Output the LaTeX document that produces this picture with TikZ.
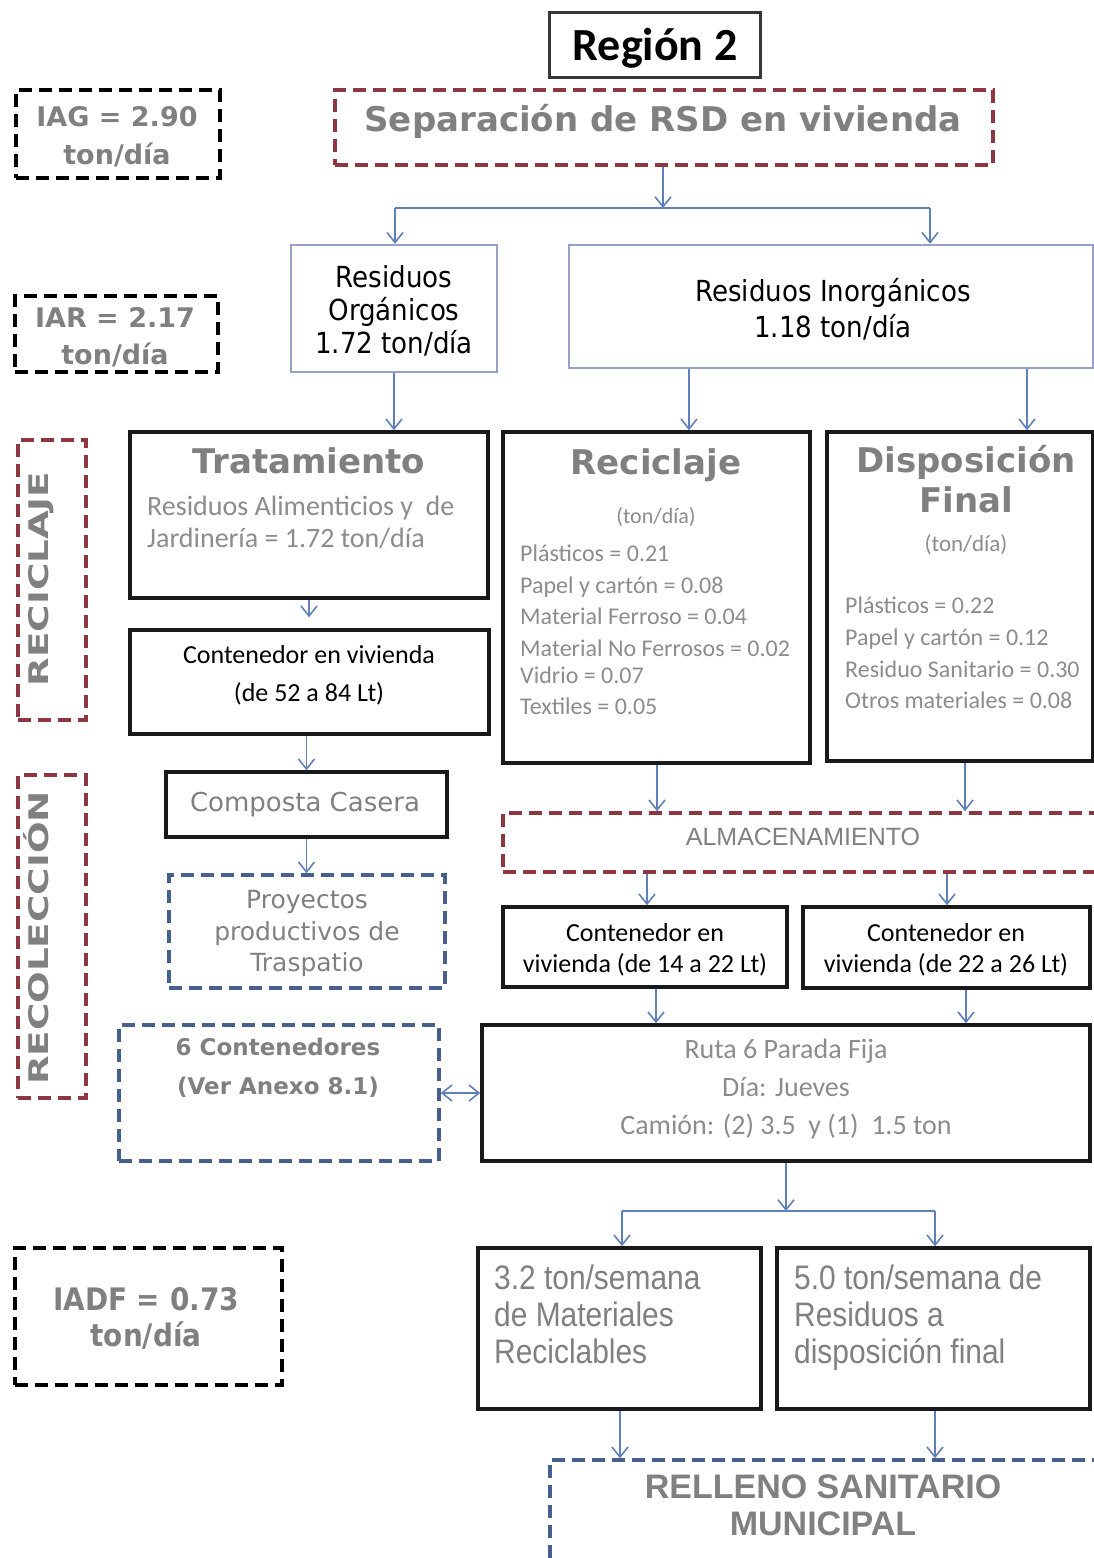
\documentclass[tikz,border=0pt]{standalone}
\usepackage{fontspec}
\setmainfont{Carlito}
\newfontfamily\dv{DejaVu Sans}
\newfontfamily\dvc[FakeStretch=0.9]{DejaVu Sans}
\newfontfamily\dvw[FakeStretch=1.38]{DejaVu Sans}
\newfontfamily\lib{Liberation Sans}
\newfontfamily\libn[FakeStretch=0.88]{Liberation Sans}
\usetikzlibrary{arrows.meta}

\definecolor{boxblack}{RGB}{25,25,25}
\definecolor{titlebox}{RGB}{55,55,55}
\definecolor{dred}{RGB}{140,55,65}
\definecolor{dblue}{RGB}{70,95,140}
\definecolor{lineblue}{RGB}{95,128,185}
\definecolor{paleblue}{RGB}{150,160,200}
\definecolor{txtgray}{RGB}{128,128,128}
\definecolor{lightgray}{RGB}{140,140,140}

\begin{document}
\begin{tikzpicture}[x=1pt,y=-1pt,
  every node/.style={inner sep=0pt},
  blk/.style={draw=boxblack, line width=3.5pt},
  thinbox/.style={draw=paleblue, line width=2.5pt},
  reddash/.style={draw=dred, line width=3.5pt, dash pattern=on 13pt off 7pt},
  bluedash/.style={draw=dblue, line width=3.5pt, dash pattern=on 13pt off 7pt},
  blackdash/.style={draw=black, line width=4pt, dash pattern=on 13pt off 7pt},
  conn/.style={draw=lineblue, line width=1.6pt},
  arr/.style={conn, -{Straight Barb[length=10pt,width=16pt,line width=1.6pt]}},
  darr/.style={conn, {Straight Barb[length=10pt,width=16pt,line width=1.6pt]}-{Straight Barb[length=10pt,width=16pt,line width=1.6pt]}},
  heading/.style={anchor=base, text=txtgray, font=\dv\bfseries\fontsize{34}{34}\selectfont},
  index/.style={anchor=base, text=txtgray, font=\dv\bfseries\fontsize{27}{27}\selectfont},
  sidelabel/.style={rotate=90, text=txtgray, text height=0.73em, text depth=0pt, font=\dvw\bfseries\fontsize{27}{27}\selectfont},
  tahoma/.style={anchor=base, text=black, font=\dvc\fontsize{29}{29}\selectfont},
  calb/.style={anchor=base, text=black, font=\fontsize{26}{26}\selectfont},
  light/.style={anchor=base, text=lightgray, font=\fontsize{#1}{#1}\selectfont},
  verd/.style={anchor=base, text=txtgray, font=\dv\fontsize{#1}{#1}\selectfont},
  verdb/.style={anchor=base, text=txtgray, font=\dv\bfseries\fontsize{23}{23}\selectfont},
  narrow/.style={anchor=base west, text=txtgray, font=\libn\fontsize{34}{34}\selectfont},
  narrowb/.style={anchor=base, text=txtgray, font=\lib\bfseries\fontsize{34}{34}\selectfont}
]
\fill[white] (0,0) rectangle (1094,1558);
\useasboundingbox (0,0) rectangle (1094,1558);

% ---------- boxes ----------
\node[draw=titlebox, line width=3pt, minimum width=211pt, minimum height=65pt] (reg) at (654.5,44.5) {};
\node[reddash, minimum width=658pt, minimum height=75pt] (sep) at (664,127.5) {};
\node[blackdash, minimum width=204pt, minimum height=88pt] (iag) at (118,134) {};
\node[blackdash, minimum width=203pt, minimum height=76pt] (iar) at (116.5,334) {};
\node[thinbox, minimum width=206pt, minimum height=127pt] (org) at (394,308.5) {};
\node[thinbox, minimum width=524pt, minimum height=123pt] (inorg) at (831,306.5) {};
\node[reddash, minimum width=68pt, minimum height=280pt] (sidea) at (52,580) {};
\node[reddash, minimum width=68pt, minimum height=323pt] (sideb) at (52,936.5) {};
\node[blk, minimum width=358pt, minimum height=166pt] (trat) at (309,515) {};
\node[blk, minimum width=359pt, minimum height=104pt] (cont1) at (309.5,682) {};
\node[blk, minimum width=281pt, minimum height=65pt] (comp) at (306.5,804.5) {};
\node[bluedash, minimum width=276pt, minimum height=113pt] (proy) at (307,931.5) {};
\node[bluedash, minimum width=320pt, minimum height=136pt] (seis) at (279,1093) {};
\node[blk, minimum width=608pt, minimum height=136pt] (ruta) at (786,1093) {};
\node[blk, minimum width=307pt, minimum height=331pt] (recic) at (656.5,597.5) {};
\node[blk, minimum width=266pt, minimum height=329pt] (disp) at (960,596.5) {};
\node[reddash, minimum width=600pt, minimum height=59pt] (alm) at (803,842.5) {};
\node[blk, minimum width=284pt, minimum height=80pt] (c14) at (645,947) {};
\node[blk, minimum width=287pt, minimum height=81pt] (c22) at (946.5,947.5) {};
\node[blk, minimum width=283pt, minimum height=161pt] (t32) at (619.5,1328.5) {};
\node[blk, minimum width=313pt, minimum height=161pt] (t50) at (933.5,1328.5) {};
\node[bluedash, minimum width=550pt, minimum height=115pt] (rell) at (825,1517.5) {};
\node[blackdash, minimum width=267pt, minimum height=137pt] (iadf) at (148.5,1316.5) {};

% ---------- texts ----------
\node[anchor=base, font=\bfseries\fontsize{46}{46}\selectfont] (reg-t) at (655,60) {Región 2};
\node[anchor=base, text=txtgray, font=\dv\bfseries\fontsize{34}{34}\selectfont] (sep-t) at (663,131) {Separación de RSD en vivienda};

\node[index] (iag-a) at (117,126) {IAG = 2.90};
\node[index] (iag-b) at (117,164) {ton/día};
\node[index] (iar-a) at (115,327) {IAR = 2.17};
\node[index] (iar-b) at (115,364) {ton/día};

\node[tahoma] (org-a) at (394,287) {Residuos};
\node[tahoma] (org-b) at (394,320) {Orgánicos};
\node[tahoma] (org-c) at (394,353) {1.72 ton/día};
\node[tahoma] (inorg-a) at (833,301) {Residuos Inorgánicos};
\node[tahoma] (inorg-b) at (833,337) {1.18 ton/día};

\node[sidelabel] (sidea-t) at (45,579) {RECICLAJE};
\node[sidelabel] (sideb-t) at (45,938) {RECOLECCIÓN};

\node[heading] (trat-t) at (309,473) {Tratamiento};
\node[light=28, anchor=base west] (trat-a) at (147,515) {Residuos Alimenticios y\ \ de};
\node[light=28, anchor=base west] (trat-b) at (147,547) {Jardinería = 1.72 ton/día};

\node[calb] (cont1-a) at (309,663) {Contenedor en vivienda};
\node[calb] (cont1-b) at (309,701) {(de 52 a 84 Lt)};

\node[verd=26] (comp-t) at (305,811) {Composta Casera};
\node[verd=25] (proy-a) at (307,908) {Proyectos};
\node[verd=25] (proy-b) at (307,940) {productivos de};
\node[verd=25] (proy-c) at (307,971) {Traspatio};

\node[verdb] (seis-a) at (278,1055) {6 Contenedores};
\node[verdb] (seis-b) at (278,1094) {(Ver Anexo 8.1)};

\node[light=28] (ruta-a) at (786,1058) {Ruta 6 Parada Fija};
\node[light=28] (ruta-b) at (786,1096) {Día: Jueves};
\node[light=28] (ruta-c) at (786,1134) {Camión: (2) 3.5\ \ y (1)\ \ 1.5 ton};

\node[heading] (recic-t) at (656,474) {Reciclaje};
\node[light=22] (recic-u) at (656,523) {(ton/día)};
\node[light=24, anchor=base west] (recic-1) at (520,561) {Plásticos = 0.21};
\node[light=24, anchor=base west] (recic-2) at (520,593) {Papel y cartón = 0.08};
\node[light=24, anchor=base west] (recic-3) at (520,624) {Material Ferroso = 0.04};
\node[light=24, anchor=base west] (recic-4) at (520,656) {Material No Ferrosos = 0.02};
\node[light=24, anchor=base west] (recic-5) at (520,683) {Vidrio = 0.07};
\node[light=24, anchor=base west] (recic-6) at (520,714) {Textiles = 0.05};

\node[heading] (disp-t) at (966,472) {Disposición};
\node[heading] (disp-f) at (966,512) {Final};
\node[light=23] (disp-u) at (966,551) {(ton/día)};
\node[light=24, anchor=base west] (disp-1) at (845,613) {Plásticos = 0.22};
\node[light=24, anchor=base west] (disp-2) at (845,645) {Papel y cartón = 0.12};
\node[light=24, anchor=base west] (disp-3) at (845,677) {Residuo Sanitario = 0.30};
\node[light=24, anchor=base west] (disp-4) at (845,708) {Otros materiales = 0.08};

\node[anchor=base, text=txtgray, font=\lib\fontsize{25}{25}\selectfont] (alm-t) at (803,845) {ALMACENAMIENTO};

\node[calb] (c14-a) at (645,941) {Contenedor en};
\node[calb] (c14-b) at (645,972) {vivienda (de 14 a 22 Lt)};
\node[calb] (c22-a) at (946,941) {Contenedor en};
\node[calb] (c22-b) at (946,972) {vivienda (de 22 a 26 Lt)};

\node[narrow] (t32-a) at (494,1289) {3.2 ton/semana};
\node[narrow] (t32-b) at (494,1326) {de Materiales};
\node[narrow] (t32-c) at (494,1363) {Reciclables};
\node[narrow] (t50-a) at (794,1289) {5.0 ton/semana de};
\node[narrow] (t50-b) at (794,1326) {Residuos a};
\node[narrow] (t50-c) at (794,1363) {disposición final};

\node[narrowb] (rell-a) at (823,1498) {RELLENO SANITARIO};
\node[narrowb] (rell-b) at (823,1535) {MUNICIPAL};

\node[anchor=base, text=txtgray, font=\dvc\bfseries\fontsize{31}{31}\selectfont] (iadf-a) at (146,1310) {IADF = 0.73};
\node[anchor=base, text=txtgray, font=\dvc\bfseries\fontsize{31}{31}\selectfont] (iadf-b) at (146,1346) {ton/día};

% ---------- connectors ----------
\coordinate (jsep) at (663,208);
\coordinate (jl) at (395,208);
\coordinate (jr) at (930,208);
\draw[arr] (sep.south -| jsep) -- (jsep);
\draw[conn] (jl) -- (jr);
\draw[arr] (jl) -- (jl |- org.north);
\draw[arr] (jr) -- (jr |- inorg.north);

\draw[arr] (org.south) -- (org.south |- trat.north);
\coordinate (xr) at (689,400);
\coordinate (xd) at (1027,400);
\draw[arr] (xr |- inorg.south) -- (xr |- recic.north);
\draw[arr] (xd |- inorg.south) -- (xd |- disp.north);

\draw[arr, shorten >=11pt] (trat.south) -- (trat.south |- cont1.north);
\draw[arr] (cont1.south -| comp.north) -- (comp.north);
\draw[arr] (comp.south) -- (comp.south |- proy.north);
\draw[darr] (seis.east) -- (ruta.west);

\coordinate (xa) at (657,790);
\coordinate (xb) at (965,790);
\draw[arr] (xa |- recic.south) -- (xa |- alm.north);
\draw[arr] (xb |- disp.south) -- (xb |- alm.north);
\coordinate (xc) at (647,890);
\coordinate (xe) at (947,890);
\draw[arr] (xc |- alm.south) -- (xc |- c14.north);
\draw[arr] (xe |- alm.south) -- (xe |- c22.north);
\coordinate (xf) at (656,1005);
\coordinate (xg) at (966,1005);
\draw[arr] (xf |- c14.south) -- (xf |- ruta.north);
\draw[arr] (xg |- c22.south) -- (xg |- ruta.north);

\coordinate (jb) at (786,1211);
\coordinate (jbl) at (622,1211);
\coordinate (jbr) at (935,1211);
\draw[arr] (ruta.south) -- (jb);
\draw[conn] (jbl) -- (jbr);
\draw[arr] (jbl) -- (jbl |- t32.north);
\draw[arr] (jbr) -- (jbr |- t50.north);
\coordinate (xh) at (620,1430);
\coordinate (xi) at (935,1430);
\draw[arr] (xh |- t32.south) -- (xh |- rell.north);
\draw[arr] (xi |- t50.south) -- (xi |- rell.north);
\end{tikzpicture}
\end{document}
